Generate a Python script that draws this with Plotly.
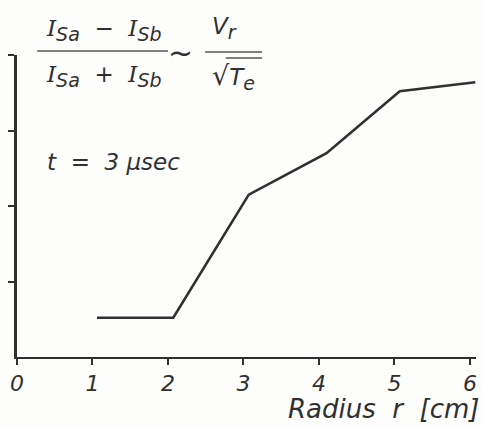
import plotly.graph_objects as go

# Radial profile of the probe-current asymmetry at t = 3 µs
radius_cm = [1.06, 2.07, 3.07, 4.10, 5.07, 6.07]
asymmetry = [0.52, 0.52, 2.15, 2.70, 3.52, 3.64]

x_ticks = [0, 1, 2, 3, 4, 5, 6]
x_tick_labels = ["0", "1", "2", "3", "4", "5", "6"]
y_ticks = [1, 2, 3, 4]

INK = "#303030"
FONT = "DejaVu Sans"

fig = go.Figure()
fig.add_trace(go.Scatter(
    x=radius_cm, y=asymmetry, mode="lines",
    line=dict(color=INK, width=2.6),
    cliponaxis=False, showlegend=False,
))


def sub(s):
    # lowered index kept at nearly full size, stencil-lettering style
    return "<sub><span style='font-size:19px'>" + s + "</span></sub>"


# current symbol drawn with a serifed capital I
CUR = "<span style='font-family:DejaVu Serif'>I</span>"
ROOT = "<span style='font-size:27px'>√</span>"

text_font = dict(family=FONT, size=23, color=INK, style="italic")

annotations = [
    # left-hand fraction
    dict(x=0.190, y=1.082, text=CUR + sub("Sa") + "  −  " + CUR + sub("Sb")),
    dict(x=0.190, y=0.932, text=CUR + sub("Sa") + "  +  " + CUR + sub("Sb")),
    # proportionality sign
    dict(x=0.357, y=1.007, text="~", font=dict(family=FONT, size=30, color=INK)),
    # right-hand fraction
    dict(x=0.452, y=1.088, text="V" + sub("r")),
    dict(x=0.472, y=0.928, text=ROOT + "T" + sub("e")),
    # time label
    dict(x=0.211, y=0.646, text="t  =  3 μsec",
         font=dict(family=FONT, size=23, color=INK, style="italic")),
    # axis title
    dict(x=1.011, y=-0.172, text="Radius  r  [cm]", xanchor="right",
         font=dict(family=FONT, size=26, color=INK, style="italic")),
]
for a in annotations:
    a.setdefault("font", text_font)
    a.setdefault("xanchor", "center")
    a.update(xref="paper", yref="paper", yanchor="middle", showarrow=False)
fig.update_layout(annotations=annotations)

# fraction bars and the radical's overline
for x0, x1, y0 in [(0.044, 0.329, 1.013), (0.410, 0.534, 1.010), (0.455, 0.534, 0.990)]:
    fig.add_shape(type="line", xref="paper", yref="paper", x0=x0, x1=x1, y0=y0, y1=y0,
                  line=dict(color="#555555", width=1.6))

fig.update_xaxes(
    range=[0, 6.08], tickvals=x_ticks, ticktext=x_tick_labels,
    showline=True, linecolor=INK, linewidth=2, ticks="outside",
    ticklen=6, tickwidth=2, tickcolor=INK, showgrid=False, zeroline=False,
    tickfont=dict(family=FONT, size=22, color=INK, style="italic"),
)
fig.update_yaxes(
    range=[0, 4], tickvals=y_ticks, showticklabels=False,
    showline=True, linecolor=INK, linewidth=3, ticks="outside",
    ticklen=6, tickwidth=2, tickcolor=INK, showgrid=False, zeroline=False,
)
fig.update_layout(
    width=482, height=426,
    margin=dict(l=17, r=6, t=55, b=69),
    paper_bgcolor="#fdfdfc", plot_bgcolor="#fdfdfc",
)

fig.write_html("out.html")
